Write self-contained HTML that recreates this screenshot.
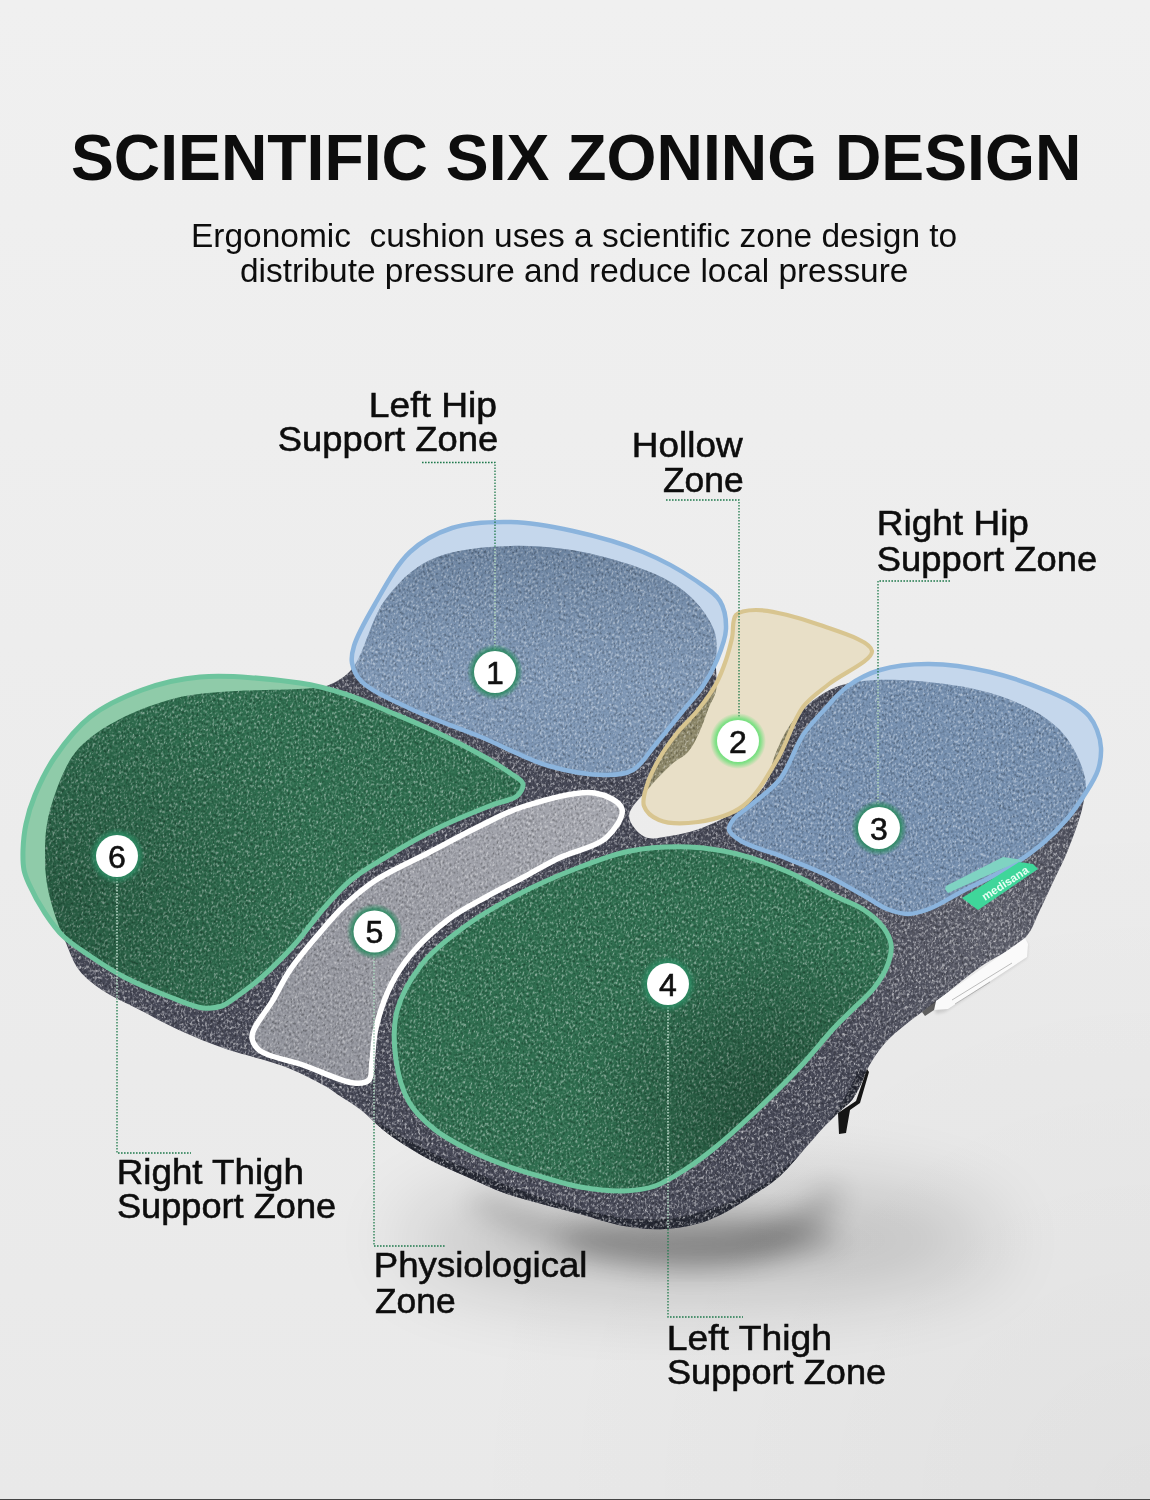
<!DOCTYPE html>
<html><head><meta charset="utf-8"><title>Scientific Six Zoning Design</title>
<style>html,body{margin:0;padding:0;background:#efefef;}body{width:1150px;height:1500px;overflow:hidden;font-family:"Liberation Sans",sans-serif;}svg{display:block;}</style>
</head><body>
<svg width="1150" height="1500" viewBox="0 0 1150 1500">
<defs>
<clipPath id="cb"><path d="M45.0,850.0 C45.1,840.7 45.5,832.9 47.0,824.0 C48.7,814.3 51.3,804.4 55.0,794.0 C59.3,782.1 65.3,766.9 72.0,757.0 C77.4,749.1 82.6,744.0 90.0,738.0 C99.2,730.5 111.1,723.3 124.0,717.0 C139.2,709.6 159.2,702.2 176.0,698.0 C191.1,694.3 202.6,693.6 220.0,692.0 C245.2,689.7 294.9,690.1 313.0,688.0 C320.6,687.1 323.4,687.3 329.0,685.0 C336.3,681.9 344.7,677.6 352.0,669.0 C364.0,654.8 370.9,618.8 385.0,600.0 C397.5,583.3 411.3,569.0 430.0,560.0 C451.9,549.5 483.3,546.8 511.0,546.0 C539.9,545.1 571.6,548.9 600.0,556.0 C627.9,563.0 660.2,573.4 680.0,588.0 C695.7,599.5 708.4,615.4 714.0,630.0 C718.7,642.2 715.7,656.9 716.0,668.0 C716.2,676.6 717.4,684.2 716.0,691.0 C714.8,697.0 711.5,701.0 709.0,707.0 C705.9,714.6 702.8,725.1 699.0,733.0 C695.7,740.0 692.6,746.8 688.0,752.0 C683.6,757.0 677.6,759.0 672.0,764.0 C664.8,770.4 656.1,779.4 649.0,788.0 C641.8,796.7 628.9,807.4 629.0,816.0 C629.1,823.5 638.0,833.7 645.0,837.0 C651.8,840.2 661.6,837.1 670.0,836.0 C678.6,834.8 687.5,832.8 696.0,830.0 C704.8,827.1 713.5,823.4 722.0,819.0 C730.8,814.4 740.5,809.2 748.0,803.0 C755.0,797.1 761.5,790.8 766.0,783.0 C770.7,774.9 771.2,764.3 775.0,755.0 C779.1,745.0 783.9,733.9 790.0,725.0 C795.7,716.7 801.9,709.4 810.0,703.0 C819.0,695.9 829.3,688.9 842.0,685.0 C858.0,680.1 878.1,679.2 900.0,680.0 C928.9,681.0 971.7,686.1 1000.0,696.0 C1023.4,704.2 1045.6,715.1 1060.0,730.0 C1072.7,743.2 1082.1,763.9 1085.0,778.0 C1087.1,788.0 1085.0,795.0 1083.0,805.0 C1080.3,818.2 1073.3,836.7 1068.0,850.0 C1063.6,861.2 1058.7,870.0 1054.0,880.0 C1049.3,890.0 1044.9,900.2 1040.0,910.0 C1035.2,919.6 1032.9,929.5 1025.0,938.0 C1014.8,949.1 994.5,956.7 980.0,967.0 C965.5,977.3 951.2,989.8 938.0,1000.0 C926.4,1009.0 914.5,1017.2 905.0,1025.0 C897.4,1031.3 891.0,1036.3 885.0,1043.0 C878.9,1049.9 873.2,1058.6 869.0,1066.0 C865.5,1072.2 863.9,1078.2 861.0,1084.0 C858.2,1089.6 855.6,1095.4 852.0,1100.0 C848.6,1104.3 844.3,1106.9 840.0,1111.0 C834.8,1116.0 828.4,1122.2 823.0,1128.0 C817.8,1133.6 813.8,1138.5 808.0,1145.0 C800.1,1153.8 789.2,1167.7 780.0,1176.0 C772.6,1182.7 767.0,1186.2 758.0,1192.0 C745.1,1200.4 725.4,1213.8 709.0,1220.0 C694.4,1225.5 679.5,1228.1 665.0,1229.0 C651.2,1229.9 637.8,1228.4 624.0,1226.0 C609.5,1223.5 593.4,1217.6 580.0,1214.0 C568.8,1211.0 560.1,1209.0 549.0,1206.0 C536.0,1202.5 520.8,1198.9 507.0,1194.0 C492.8,1189.0 477.9,1181.7 465.0,1176.0 C453.9,1171.1 444.2,1167.2 434.0,1162.0 C423.5,1156.6 412.2,1149.9 403.0,1144.0 C395.2,1139.0 388.8,1134.5 382.0,1129.0 C374.8,1123.2 368.2,1115.6 361.0,1110.0 C354.2,1104.7 346.4,1100.3 340.0,1096.0 C334.6,1092.4 331.4,1089.6 325.0,1086.0 C314.7,1080.1 298.3,1071.9 283.0,1066.0 C265.7,1059.3 243.7,1055.2 226.0,1049.0 C210.0,1043.4 195.8,1037.7 181.0,1031.0 C165.8,1024.1 149.9,1015.2 136.0,1008.0 C123.8,1001.7 111.9,996.8 102.0,990.0 C93.2,984.0 85.0,977.9 79.0,970.0 C73.0,962.2 69.9,951.9 66.0,943.0 C62.3,934.6 59.0,927.1 56.0,918.0 C52.6,907.6 48.8,895.4 47.0,884.0 C45.2,872.8 44.9,860.6 45.0,850.0Z"/></clipPath>
<filter id="blur25" x="-50%" y="-50%" width="200%" height="200%"><feGaussianBlur stdDeviation="28"/></filter>
<filter id="glow" x="-50%" y="-50%" width="200%" height="200%"><feGaussianBlur stdDeviation="1.6"/></filter>
<linearGradient id="bg" x1="0" y1="0" x2="0" y2="1"><stop offset="0" stop-color="#f0f0f0"/><stop offset="1" stop-color="#e9e9e9"/></linearGradient>
<filter id="speck" filterUnits="userSpaceOnUse" x="-400" y="-400" width="2000" height="2000"><feTurbulence type="fractalNoise" baseFrequency="0.55 0.35" numOctaves="2" seed="7"/><feColorMatrix type="matrix" values="0 0 0 0 1  0 0 0 0 1  0 0 0 0 1  5 0 0 0 -2.7"/><feGaussianBlur stdDeviation="0.45"/></filter>
<filter id="speckd" filterUnits="userSpaceOnUse" x="-400" y="-400" width="2000" height="2000"><feTurbulence type="fractalNoise" baseFrequency="0.55 0.35" numOctaves="2" seed="7"/><feColorMatrix type="matrix" values="0 0 0 0 0  0 0 0 0 0  0 0 0 0 0  -5 0 0 0 2.2"/><feGaussianBlur stdDeviation="0.45"/></filter>
</defs>
<rect x="0" y="0" width="1150" height="1500" fill="url(#bg)"/>
<radialGradient id="bgbr" cx="1150" cy="1500" r="700" gradientUnits="userSpaceOnUse"><stop offset="0" stop-color="#000" stop-opacity="0.035"/><stop offset="1" stop-color="#000" stop-opacity="0"/></radialGradient>
<rect x="0" y="0" width="1150" height="1500" fill="url(#bgbr)"/>
<filter id="blur12" x="-50%" y="-50%" width="200%" height="200%"><feGaussianBlur stdDeviation="14"/></filter>
<filter id="blur40" x="-50%" y="-50%" width="200%" height="200%"><feGaussianBlur stdDeviation="40"/></filter>
<ellipse cx="700" cy="1240" rx="300" ry="60" fill="#000" opacity="0.16" filter="url(#blur40)"/>
<ellipse cx="700" cy="1238" rx="140" ry="22" fill="#000" opacity="0.22" filter="url(#blur12)"/>
<path d="M480,1195 C560,1230 640,1245 700,1240 C760,1236 800,1215 830,1185 L842,1195 C812,1240 770,1265 700,1268 C620,1270 540,1242 470,1205Z" fill="#000" opacity="0.22" filter="url(#blur12)"/>
<path d="M45.0,850.0 C45.1,840.7 45.5,832.9 47.0,824.0 C48.7,814.3 51.3,804.4 55.0,794.0 C59.3,782.1 65.3,766.9 72.0,757.0 C77.4,749.1 82.6,744.0 90.0,738.0 C99.2,730.5 111.1,723.3 124.0,717.0 C139.2,709.6 159.2,702.2 176.0,698.0 C191.1,694.3 202.6,693.6 220.0,692.0 C245.2,689.7 294.9,690.1 313.0,688.0 C320.6,687.1 323.4,687.3 329.0,685.0 C336.3,681.9 344.7,677.6 352.0,669.0 C364.0,654.8 370.9,618.8 385.0,600.0 C397.5,583.3 411.3,569.0 430.0,560.0 C451.9,549.5 483.3,546.8 511.0,546.0 C539.9,545.1 571.6,548.9 600.0,556.0 C627.9,563.0 660.2,573.4 680.0,588.0 C695.7,599.5 708.4,615.4 714.0,630.0 C718.7,642.2 715.7,656.9 716.0,668.0 C716.2,676.6 717.4,684.2 716.0,691.0 C714.8,697.0 711.5,701.0 709.0,707.0 C705.9,714.6 702.8,725.1 699.0,733.0 C695.7,740.0 692.6,746.8 688.0,752.0 C683.6,757.0 677.6,759.0 672.0,764.0 C664.8,770.4 656.1,779.4 649.0,788.0 C641.8,796.7 628.9,807.4 629.0,816.0 C629.1,823.5 638.0,833.7 645.0,837.0 C651.8,840.2 661.6,837.1 670.0,836.0 C678.6,834.8 687.5,832.8 696.0,830.0 C704.8,827.1 713.5,823.4 722.0,819.0 C730.8,814.4 740.5,809.2 748.0,803.0 C755.0,797.1 761.5,790.8 766.0,783.0 C770.7,774.9 771.2,764.3 775.0,755.0 C779.1,745.0 783.9,733.9 790.0,725.0 C795.7,716.7 801.9,709.4 810.0,703.0 C819.0,695.9 829.3,688.9 842.0,685.0 C858.0,680.1 878.1,679.2 900.0,680.0 C928.9,681.0 971.7,686.1 1000.0,696.0 C1023.4,704.2 1045.6,715.1 1060.0,730.0 C1072.7,743.2 1082.1,763.9 1085.0,778.0 C1087.1,788.0 1085.0,795.0 1083.0,805.0 C1080.3,818.2 1073.3,836.7 1068.0,850.0 C1063.6,861.2 1058.7,870.0 1054.0,880.0 C1049.3,890.0 1044.9,900.2 1040.0,910.0 C1035.2,919.6 1032.9,929.5 1025.0,938.0 C1014.8,949.1 994.5,956.7 980.0,967.0 C965.5,977.3 951.2,989.8 938.0,1000.0 C926.4,1009.0 914.5,1017.2 905.0,1025.0 C897.4,1031.3 891.0,1036.3 885.0,1043.0 C878.9,1049.9 873.2,1058.6 869.0,1066.0 C865.5,1072.2 863.9,1078.2 861.0,1084.0 C858.2,1089.6 855.6,1095.4 852.0,1100.0 C848.6,1104.3 844.3,1106.9 840.0,1111.0 C834.8,1116.0 828.4,1122.2 823.0,1128.0 C817.8,1133.6 813.8,1138.5 808.0,1145.0 C800.1,1153.8 789.2,1167.7 780.0,1176.0 C772.6,1182.7 767.0,1186.2 758.0,1192.0 C745.1,1200.4 725.4,1213.8 709.0,1220.0 C694.4,1225.5 679.5,1228.1 665.0,1229.0 C651.2,1229.9 637.8,1228.4 624.0,1226.0 C609.5,1223.5 593.4,1217.6 580.0,1214.0 C568.8,1211.0 560.1,1209.0 549.0,1206.0 C536.0,1202.5 520.8,1198.9 507.0,1194.0 C492.8,1189.0 477.9,1181.7 465.0,1176.0 C453.9,1171.1 444.2,1167.2 434.0,1162.0 C423.5,1156.6 412.2,1149.9 403.0,1144.0 C395.2,1139.0 388.8,1134.5 382.0,1129.0 C374.8,1123.2 368.2,1115.6 361.0,1110.0 C354.2,1104.7 346.4,1100.3 340.0,1096.0 C334.6,1092.4 331.4,1089.6 325.0,1086.0 C314.7,1080.1 298.3,1071.9 283.0,1066.0 C265.7,1059.3 243.7,1055.2 226.0,1049.0 C210.0,1043.4 195.8,1037.7 181.0,1031.0 C165.8,1024.1 149.9,1015.2 136.0,1008.0 C123.8,1001.7 111.9,996.8 102.0,990.0 C93.2,984.0 85.0,977.9 79.0,970.0 C73.0,962.2 69.9,951.9 66.0,943.0 C62.3,934.6 59.0,927.1 56.0,918.0 C52.6,907.6 48.8,895.4 47.0,884.0 C45.2,872.8 44.9,860.6 45.0,850.0Z" fill="#454755"/>
<radialGradient id="sidehl" cx="1000" cy="930" r="220" gradientUnits="userSpaceOnUse"><stop offset="0" stop-color="#ffffff" stop-opacity="0.13"/><stop offset="1" stop-color="#ffffff" stop-opacity="0"/></radialGradient>
<g clip-path="url(#cb)"><rect x="700" y="700" width="450" height="500" fill="url(#sidehl)"/>
<path d="M372,1128 C420,1160 520,1205 600,1222 C660,1236 720,1222 770,1190 C810,1160 845,1125 866,1072" fill="none" stroke="#1a1c27" stroke-width="16" opacity="0.7"/></g>
<filter id="bspeck" filterUnits="userSpaceOnUse" x="0" y="500" width="1150" height="800"><feTurbulence type="fractalNoise" baseFrequency="0.38 0.3" numOctaves="2" seed="11"/><feColorMatrix type="matrix" values="0 0 0 0 1  0 0 0 0 1  0 0 0 0 1  6 0 0 0 -3.4"/><feGaussianBlur stdDeviation="0.35"/></filter>
<g clip-path="url(#cb)"><rect x="0" y="500" width="1150" height="800" fill="#c8c9d2" filter="url(#bspeck)" opacity="0.4"/></g>
<path d="M361.0,681.0 C370.6,691.1 394.2,701.1 413.0,710.0 C433.9,719.9 458.4,727.7 481.0,737.0 C503.7,746.4 526.7,759.7 549.0,766.0 C569.0,771.7 592.5,775.4 608.0,775.0 C618.1,774.8 625.5,774.3 633.0,770.0 C641.8,765.0 648.2,753.2 656.0,744.0 C664.5,734.0 673.8,722.1 682.0,712.0 C689.4,702.9 697.0,695.0 703.0,686.0 C708.6,677.6 713.2,669.3 717.0,660.0 C721.0,650.3 725.6,639.1 726.0,629.0 C726.3,619.5 724.8,609.0 720.0,601.0 C714.9,592.5 705.3,587.0 695.0,580.0 C681.2,570.6 662.1,559.9 643.0,552.0 C621.8,543.2 595.8,536.0 573.0,531.0 C551.9,526.3 531.4,522.4 511.0,522.0 C491.1,521.6 469.5,522.4 452.0,528.0 C436.2,533.1 422.2,540.6 410.0,552.0 C396.1,565.0 384.7,587.3 375.0,604.0 C366.6,618.5 357.3,634.9 354.0,646.0 C352.0,652.7 351.0,657.4 352.0,663.0 C353.1,669.1 355.4,675.1 361.0,681.0Z" fill="#c5d7ec"/>
<path d="M361.0,681.0 C370.6,691.1 394.2,701.1 413.0,710.0 C433.9,719.9 458.4,727.7 481.0,737.0 C503.7,746.4 526.7,759.7 549.0,766.0 C569.0,771.7 592.5,775.4 608.0,775.0 C618.1,774.8 625.5,774.3 633.0,770.0 C641.8,765.0 648.2,753.2 656.0,744.0 C664.5,734.0 673.8,722.1 682.0,712.0 C689.4,702.9 697.0,695.0 703.0,686.0 C708.6,677.6 713.2,669.3 717.0,660.0 C721.0,650.3 725.6,639.1 726.0,629.0 C726.3,619.5 724.8,609.0 720.0,601.0 C714.9,592.5 705.3,587.0 695.0,580.0 C681.2,570.6 662.1,559.9 643.0,552.0 C621.8,543.2 595.8,536.0 573.0,531.0 C551.9,526.3 531.4,522.4 511.0,522.0 C491.1,521.6 469.5,522.4 452.0,528.0 C436.2,533.1 422.2,540.6 410.0,552.0 C396.1,565.0 384.7,587.3 375.0,604.0 C366.6,618.5 357.3,634.9 354.0,646.0 C352.0,652.7 351.0,657.4 352.0,663.0 C353.1,669.1 355.4,675.1 361.0,681.0Z" fill="#7690b0" clip-path="url(#cb)"/>
<path d="M729.0,830.0 C729.9,833.9 735.3,837.5 741.0,841.0 C750.4,846.8 769.1,851.5 783.0,857.0 C796.8,862.5 810.4,867.5 824.0,874.0 C838.1,880.8 854.4,890.5 866.0,897.0 C874.2,901.6 879.8,906.1 887.0,909.0 C893.8,911.7 901.0,914.0 908.0,914.0 C915.0,914.0 921.4,911.9 929.0,909.0 C939.2,905.2 950.8,897.3 963.0,891.0 C976.9,883.8 994.3,876.3 1008.0,868.0 C1020.4,860.5 1031.9,852.5 1042.0,844.0 C1051.3,836.1 1059.7,827.6 1067.0,819.0 C1073.9,810.9 1079.7,802.4 1085.0,794.0 C1090.0,786.1 1095.4,778.1 1098.0,770.0 C1100.4,762.7 1101.3,754.9 1101.0,748.0 C1100.7,741.7 1099.1,735.5 1097.0,730.0 C1095.0,724.9 1092.4,720.1 1089.0,716.0 C1085.5,711.8 1081.3,708.5 1076.0,705.0 C1069.0,700.4 1060.6,696.4 1050.0,692.0 C1034.3,685.5 1010.3,676.7 990.0,672.0 C970.0,667.4 948.2,664.1 929.0,664.0 C911.8,663.9 894.3,665.7 880.0,670.0 C867.8,673.7 857.4,679.2 848.0,686.0 C838.8,692.6 831.6,701.7 824.0,710.0 C816.6,718.1 809.6,725.1 803.0,735.0 C794.8,747.2 789.4,766.9 780.0,779.0 C771.7,789.7 759.6,797.6 751.0,805.0 C744.3,810.8 736.6,815.0 733.0,820.0 C730.6,823.4 728.3,826.8 729.0,830.0Z" fill="#c5d7ec"/>
<path d="M729.0,830.0 C729.9,833.9 735.3,837.5 741.0,841.0 C750.4,846.8 769.1,851.5 783.0,857.0 C796.8,862.5 810.4,867.5 824.0,874.0 C838.1,880.8 854.4,890.5 866.0,897.0 C874.2,901.6 879.8,906.1 887.0,909.0 C893.8,911.7 901.0,914.0 908.0,914.0 C915.0,914.0 921.4,911.9 929.0,909.0 C939.2,905.2 950.8,897.3 963.0,891.0 C976.9,883.8 994.3,876.3 1008.0,868.0 C1020.4,860.5 1031.9,852.5 1042.0,844.0 C1051.3,836.1 1059.7,827.6 1067.0,819.0 C1073.9,810.9 1079.7,802.4 1085.0,794.0 C1090.0,786.1 1095.4,778.1 1098.0,770.0 C1100.4,762.7 1101.3,754.9 1101.0,748.0 C1100.7,741.7 1099.1,735.5 1097.0,730.0 C1095.0,724.9 1092.4,720.1 1089.0,716.0 C1085.5,711.8 1081.3,708.5 1076.0,705.0 C1069.0,700.4 1060.6,696.4 1050.0,692.0 C1034.3,685.5 1010.3,676.7 990.0,672.0 C970.0,667.4 948.2,664.1 929.0,664.0 C911.8,663.9 894.3,665.7 880.0,670.0 C867.8,673.7 857.4,679.2 848.0,686.0 C838.8,692.6 831.6,701.7 824.0,710.0 C816.6,718.1 809.6,725.1 803.0,735.0 C794.8,747.2 789.4,766.9 780.0,779.0 C771.7,789.7 759.6,797.6 751.0,805.0 C744.3,810.8 736.6,815.0 733.0,820.0 C730.6,823.4 728.3,826.8 729.0,830.0Z" fill="#7690b0" clip-path="url(#cb)"/>
<path d="M200.0,677.0 C177.9,678.8 160.4,683.3 142.0,690.0 C123.7,696.7 104.7,705.4 90.0,717.0 C76.0,728.0 64.4,743.3 55.0,757.0 C46.5,769.3 40.0,783.0 35.0,795.0 C30.8,805.1 28.0,814.5 26.0,824.0 C24.1,832.8 23.3,841.9 23.0,850.0 C22.8,857.1 22.8,864.0 24.0,870.0 C25.0,875.2 26.6,878.6 29.0,884.0 C32.6,892.0 39.1,904.1 45.0,913.0 C50.5,921.3 55.8,929.0 63.0,936.0 C70.7,943.5 80.3,949.5 90.0,956.0 C100.5,963.1 111.6,970.5 124.0,977.0 C137.9,984.3 155.8,991.6 170.0,997.0 C181.8,1001.5 193.4,1007.0 203.0,1008.0 C210.1,1008.8 216.8,1007.7 222.0,1006.0 C226.0,1004.6 227.9,1002.8 232.0,1000.0 C239.4,994.9 252.0,985.8 262.0,977.0 C273.3,967.1 285.5,954.7 296.0,943.0 C306.1,931.7 314.5,918.8 324.0,908.0 C332.9,897.9 340.9,888.4 351.0,880.0 C361.5,871.3 373.1,864.8 386.0,857.0 C401.0,847.9 418.6,837.6 436.0,829.0 C453.9,820.2 477.0,810.9 492.0,805.0 C501.9,801.1 511.9,800.5 517.0,796.0 C520.6,792.8 523.7,787.6 523.0,784.0 C522.2,779.9 515.4,776.9 510.0,773.0 C502.4,767.5 491.9,761.1 481.0,755.0 C467.8,747.5 451.2,739.2 436.0,732.0 C420.9,724.8 405.3,718.4 390.0,712.0 C375.0,705.7 360.2,698.9 345.0,694.0 C330.2,689.2 318.1,685.7 300.0,683.0 C273.4,679.0 228.7,674.7 200.0,677.0Z" fill="#8fcba9"/>
<path d="M200.0,677.0 C177.9,678.8 160.4,683.3 142.0,690.0 C123.7,696.7 104.7,705.4 90.0,717.0 C76.0,728.0 64.4,743.3 55.0,757.0 C46.5,769.3 40.0,783.0 35.0,795.0 C30.8,805.1 28.0,814.5 26.0,824.0 C24.1,832.8 23.3,841.9 23.0,850.0 C22.8,857.1 22.8,864.0 24.0,870.0 C25.0,875.2 26.6,878.6 29.0,884.0 C32.6,892.0 39.1,904.1 45.0,913.0 C50.5,921.3 55.8,929.0 63.0,936.0 C70.7,943.5 80.3,949.5 90.0,956.0 C100.5,963.1 111.6,970.5 124.0,977.0 C137.9,984.3 155.8,991.6 170.0,997.0 C181.8,1001.5 193.4,1007.0 203.0,1008.0 C210.1,1008.8 216.8,1007.7 222.0,1006.0 C226.0,1004.6 227.9,1002.8 232.0,1000.0 C239.4,994.9 252.0,985.8 262.0,977.0 C273.3,967.1 285.5,954.7 296.0,943.0 C306.1,931.7 314.5,918.8 324.0,908.0 C332.9,897.9 340.9,888.4 351.0,880.0 C361.5,871.3 373.1,864.8 386.0,857.0 C401.0,847.9 418.6,837.6 436.0,829.0 C453.9,820.2 477.0,810.9 492.0,805.0 C501.9,801.1 511.9,800.5 517.0,796.0 C520.6,792.8 523.7,787.6 523.0,784.0 C522.2,779.9 515.4,776.9 510.0,773.0 C502.4,767.5 491.9,761.1 481.0,755.0 C467.8,747.5 451.2,739.2 436.0,732.0 C420.9,724.8 405.3,718.4 390.0,712.0 C375.0,705.7 360.2,698.9 345.0,694.0 C330.2,689.2 318.1,685.7 300.0,683.0 C273.4,679.0 228.7,674.7 200.0,677.0Z" fill="#2f6e4f" clip-path="url(#cb)"/>
<path d="M630.0,851.0 C649.1,847.3 670.4,846.3 689.0,847.0 C705.9,847.7 721.1,850.1 737.0,854.0 C753.4,858.0 769.9,864.1 786.0,871.0 C802.6,878.1 820.8,888.9 835.0,896.0 C845.9,901.4 855.7,904.4 864.0,910.0 C871.4,915.0 878.4,920.8 883.0,927.0 C886.9,932.3 890.1,938.0 891.0,944.0 C891.9,950.3 890.4,957.3 888.0,964.0 C885.2,971.9 879.8,980.5 874.0,988.0 C867.9,995.9 859.0,1003.0 852.0,1010.0 C845.7,1016.3 840.8,1020.7 834.0,1028.0 C824.3,1038.4 812.2,1054.0 800.0,1067.0 C787.0,1081.0 772.1,1095.6 758.0,1109.0 C744.4,1121.9 730.0,1135.4 717.0,1146.0 C706.2,1154.9 696.6,1162.2 686.0,1169.0 C675.9,1175.5 665.7,1182.3 655.0,1186.0 C645.0,1189.4 635.3,1190.6 624.0,1191.0 C610.6,1191.5 593.3,1189.3 580.0,1187.0 C568.7,1185.0 560.1,1182.1 549.0,1179.0 C536.0,1175.3 520.9,1171.1 507.0,1166.0 C492.9,1160.8 477.7,1154.6 465.0,1148.0 C453.7,1142.1 443.3,1136.6 434.0,1129.0 C424.6,1121.3 415.2,1112.8 409.0,1102.0 C402.2,1090.2 398.1,1074.7 396.0,1060.0 C393.8,1044.5 392.9,1026.7 397.0,1011.0 C401.3,994.6 411.0,977.9 422.0,964.0 C433.2,949.8 448.5,938.3 464.0,927.0 C480.6,914.9 500.3,903.7 519.0,894.0 C537.3,884.5 556.2,876.2 575.0,869.0 C593.2,862.0 611.1,854.7 630.0,851.0Z" fill="#8fcba9"/>
<path d="M630.0,851.0 C649.1,847.3 670.4,846.3 689.0,847.0 C705.9,847.7 721.1,850.1 737.0,854.0 C753.4,858.0 769.9,864.1 786.0,871.0 C802.6,878.1 820.8,888.9 835.0,896.0 C845.9,901.4 855.7,904.4 864.0,910.0 C871.4,915.0 878.4,920.8 883.0,927.0 C886.9,932.3 890.1,938.0 891.0,944.0 C891.9,950.3 890.4,957.3 888.0,964.0 C885.2,971.9 879.8,980.5 874.0,988.0 C867.9,995.9 859.0,1003.0 852.0,1010.0 C845.7,1016.3 840.8,1020.7 834.0,1028.0 C824.3,1038.4 812.2,1054.0 800.0,1067.0 C787.0,1081.0 772.1,1095.6 758.0,1109.0 C744.4,1121.9 730.0,1135.4 717.0,1146.0 C706.2,1154.9 696.6,1162.2 686.0,1169.0 C675.9,1175.5 665.7,1182.3 655.0,1186.0 C645.0,1189.4 635.3,1190.6 624.0,1191.0 C610.6,1191.5 593.3,1189.3 580.0,1187.0 C568.7,1185.0 560.1,1182.1 549.0,1179.0 C536.0,1175.3 520.9,1171.1 507.0,1166.0 C492.9,1160.8 477.7,1154.6 465.0,1148.0 C453.7,1142.1 443.3,1136.6 434.0,1129.0 C424.6,1121.3 415.2,1112.8 409.0,1102.0 C402.2,1090.2 398.1,1074.7 396.0,1060.0 C393.8,1044.5 392.9,1026.7 397.0,1011.0 C401.3,994.6 411.0,977.9 422.0,964.0 C433.2,949.8 448.5,938.3 464.0,927.0 C480.6,914.9 500.3,903.7 519.0,894.0 C537.3,884.5 556.2,876.2 575.0,869.0 C593.2,862.0 611.1,854.7 630.0,851.0Z" fill="#2f6e4f" clip-path="url(#cb)"/>
<path d="M736.0,615.0 C740.0,610.7 747.4,610.1 756.0,610.0 C771.3,609.9 800.2,617.8 820.0,625.0 C838.7,631.7 871.0,640.9 872.0,651.0 C872.9,660.7 841.4,673.8 829.0,684.0 C819.1,692.2 810.8,696.8 803.0,707.0 C792.8,720.3 787.1,743.4 777.0,760.0 C767.1,776.4 757.0,795.6 743.0,806.0 C730.2,815.5 712.7,819.9 698.0,822.0 C684.7,823.9 668.5,824.0 659.0,820.0 C652.1,817.1 646.0,811.8 644.0,806.0 C641.9,800.1 644.9,792.2 647.0,785.0 C649.5,776.6 654.2,767.5 659.0,759.0 C664.1,750.1 670.5,741.2 677.0,733.0 C683.5,724.9 691.5,718.1 698.0,710.0 C704.5,701.8 711.2,692.7 716.0,684.0 C720.3,676.1 723.3,667.9 726.0,660.0 C728.5,652.6 730.3,645.5 732.0,638.0 C733.7,630.5 731.7,619.6 736.0,615.0Z" fill="#e8dfc7"/>
<path d="M736.0,615.0 C740.0,610.7 747.4,610.1 756.0,610.0 C771.3,609.9 800.2,617.8 820.0,625.0 C838.7,631.7 871.0,640.9 872.0,651.0 C872.9,660.7 841.4,673.8 829.0,684.0 C819.1,692.2 810.8,696.8 803.0,707.0 C792.8,720.3 787.1,743.4 777.0,760.0 C767.1,776.4 757.0,795.6 743.0,806.0 C730.2,815.5 712.7,819.9 698.0,822.0 C684.7,823.9 668.5,824.0 659.0,820.0 C652.1,817.1 646.0,811.8 644.0,806.0 C641.9,800.1 644.9,792.2 647.0,785.0 C649.5,776.6 654.2,767.5 659.0,759.0 C664.1,750.1 670.5,741.2 677.0,733.0 C683.5,724.9 691.5,718.1 698.0,710.0 C704.5,701.8 711.2,692.7 716.0,684.0 C720.3,676.1 723.3,667.9 726.0,660.0 C728.5,652.6 730.3,645.5 732.0,638.0 C733.7,630.5 731.7,619.6 736.0,615.0Z" fill="#8c8769" clip-path="url(#cb)"/>
<path d="M595.0,793.0 C606.7,795.0 620.0,801.7 622.0,809.0 C624.1,816.5 614.6,830.3 606.0,838.0 C595.3,847.6 573.6,851.0 559.0,858.0 C545.8,864.4 534.3,871.4 522.0,878.0 C509.9,884.4 498.0,890.3 486.0,897.0 C473.7,903.9 460.8,910.2 449.0,919.0 C436.4,928.4 423.0,940.4 413.0,952.0 C404.0,962.5 397.0,972.9 391.0,985.0 C384.5,998.0 379.1,1014.5 376.0,1028.0 C373.3,1039.6 373.3,1051.5 372.0,1061.0 C371.0,1068.2 372.4,1076.4 369.0,1080.0 C365.9,1083.2 360.4,1083.5 354.0,1083.0 C342.0,1082.1 319.4,1070.7 303.0,1065.0 C287.8,1059.7 266.9,1056.9 259.0,1050.0 C254.4,1046.0 251.8,1041.7 252.0,1036.0 C252.3,1026.7 266.4,1011.5 273.0,1000.0 C279.0,989.6 283.2,980.0 290.0,970.0 C297.6,958.7 307.7,946.9 317.0,936.0 C326.1,925.3 335.0,914.4 345.0,905.0 C354.7,895.8 363.9,887.9 376.0,880.0 C390.7,870.4 410.7,862.0 428.0,853.0 C445.3,844.0 463.5,834.0 480.0,826.0 C494.6,818.9 505.7,812.2 522.0,807.0 C542.7,800.4 577.0,789.9 595.0,793.0Z" fill="#9d9fa8"/>
<g clip-path="url(#cb)"><g transform="rotate(20 575 900)" style="mix-blend-mode:soft-light"><rect x="-200" y="300" width="1550" height="1200" fill="#fff" filter="url(#speck)" opacity="0.45"/><rect x="-200" y="300" width="1550" height="1200" fill="#000" filter="url(#speckd)" opacity="0.3"/></g></g>
<radialGradient id="z4dark" cx="770" cy="1120" r="190" gradientUnits="userSpaceOnUse"><stop offset="0" stop-color="#000" stop-opacity="0.28"/><stop offset="1" stop-color="#000" stop-opacity="0"/></radialGradient>
<clipPath id="cz4"><path d="M630.0,851.0 C649.1,847.3 670.4,846.3 689.0,847.0 C705.9,847.7 721.1,850.1 737.0,854.0 C753.4,858.0 769.9,864.1 786.0,871.0 C802.6,878.1 820.8,888.9 835.0,896.0 C845.9,901.4 855.7,904.4 864.0,910.0 C871.4,915.0 878.4,920.8 883.0,927.0 C886.9,932.3 890.1,938.0 891.0,944.0 C891.9,950.3 890.4,957.3 888.0,964.0 C885.2,971.9 879.8,980.5 874.0,988.0 C867.9,995.9 859.0,1003.0 852.0,1010.0 C845.7,1016.3 840.8,1020.7 834.0,1028.0 C824.3,1038.4 812.2,1054.0 800.0,1067.0 C787.0,1081.0 772.1,1095.6 758.0,1109.0 C744.4,1121.9 730.0,1135.4 717.0,1146.0 C706.2,1154.9 696.6,1162.2 686.0,1169.0 C675.9,1175.5 665.7,1182.3 655.0,1186.0 C645.0,1189.4 635.3,1190.6 624.0,1191.0 C610.6,1191.5 593.3,1189.3 580.0,1187.0 C568.7,1185.0 560.1,1182.1 549.0,1179.0 C536.0,1175.3 520.9,1171.1 507.0,1166.0 C492.9,1160.8 477.7,1154.6 465.0,1148.0 C453.7,1142.1 443.3,1136.6 434.0,1129.0 C424.6,1121.3 415.2,1112.8 409.0,1102.0 C402.2,1090.2 398.1,1074.7 396.0,1060.0 C393.8,1044.5 392.9,1026.7 397.0,1011.0 C401.3,994.6 411.0,977.9 422.0,964.0 C433.2,949.8 448.5,938.3 464.0,927.0 C480.6,914.9 500.3,903.7 519.0,894.0 C537.3,884.5 556.2,876.2 575.0,869.0 C593.2,862.0 611.1,854.7 630.0,851.0Z"/></clipPath>
<rect x="380" y="830" width="520" height="380" fill="url(#z4dark)" clip-path="url(#cz4)"/>
<linearGradient id="z1lg" x1="0" y1="0" x2="0" y2="1"><stop offset="0" stop-color="#000" stop-opacity="0.10"/><stop offset="0.6" stop-color="#fff" stop-opacity="0.06"/><stop offset="1" stop-color="#fff" stop-opacity="0.04"/></linearGradient>
<clipPath id="cz1"><path d="M361.0,681.0 C370.6,691.1 394.2,701.1 413.0,710.0 C433.9,719.9 458.4,727.7 481.0,737.0 C503.7,746.4 526.7,759.7 549.0,766.0 C569.0,771.7 592.5,775.4 608.0,775.0 C618.1,774.8 625.5,774.3 633.0,770.0 C641.8,765.0 648.2,753.2 656.0,744.0 C664.5,734.0 673.8,722.1 682.0,712.0 C689.4,702.9 697.0,695.0 703.0,686.0 C708.6,677.6 713.2,669.3 717.0,660.0 C721.0,650.3 725.6,639.1 726.0,629.0 C726.3,619.5 724.8,609.0 720.0,601.0 C714.9,592.5 705.3,587.0 695.0,580.0 C681.2,570.6 662.1,559.9 643.0,552.0 C621.8,543.2 595.8,536.0 573.0,531.0 C551.9,526.3 531.4,522.4 511.0,522.0 C491.1,521.6 469.5,522.4 452.0,528.0 C436.2,533.1 422.2,540.6 410.0,552.0 C396.1,565.0 384.7,587.3 375.0,604.0 C366.6,618.5 357.3,634.9 354.0,646.0 C352.0,652.7 351.0,657.4 352.0,663.0 C353.1,669.1 355.4,675.1 361.0,681.0Z"/></clipPath>
<g clip-path="url(#cb)"><rect x="340" y="540" width="400" height="240" fill="url(#z1lg)" clip-path="url(#cz1)"/></g>
<radialGradient id="z6dark" cx="60" cy="900" r="260" gradientUnits="userSpaceOnUse"><stop offset="0" stop-color="#000" stop-opacity="0.18"/><stop offset="1" stop-color="#000" stop-opacity="0"/></radialGradient>
<clipPath id="cz6"><path d="M200.0,677.0 C177.9,678.8 160.4,683.3 142.0,690.0 C123.7,696.7 104.7,705.4 90.0,717.0 C76.0,728.0 64.4,743.3 55.0,757.0 C46.5,769.3 40.0,783.0 35.0,795.0 C30.8,805.1 28.0,814.5 26.0,824.0 C24.1,832.8 23.3,841.9 23.0,850.0 C22.8,857.1 22.8,864.0 24.0,870.0 C25.0,875.2 26.6,878.6 29.0,884.0 C32.6,892.0 39.1,904.1 45.0,913.0 C50.5,921.3 55.8,929.0 63.0,936.0 C70.7,943.5 80.3,949.5 90.0,956.0 C100.5,963.1 111.6,970.5 124.0,977.0 C137.9,984.3 155.8,991.6 170.0,997.0 C181.8,1001.5 193.4,1007.0 203.0,1008.0 C210.1,1008.8 216.8,1007.7 222.0,1006.0 C226.0,1004.6 227.9,1002.8 232.0,1000.0 C239.4,994.9 252.0,985.8 262.0,977.0 C273.3,967.1 285.5,954.7 296.0,943.0 C306.1,931.7 314.5,918.8 324.0,908.0 C332.9,897.9 340.9,888.4 351.0,880.0 C361.5,871.3 373.1,864.8 386.0,857.0 C401.0,847.9 418.6,837.6 436.0,829.0 C453.9,820.2 477.0,810.9 492.0,805.0 C501.9,801.1 511.9,800.5 517.0,796.0 C520.6,792.8 523.7,787.6 523.0,784.0 C522.2,779.9 515.4,776.9 510.0,773.0 C502.4,767.5 491.9,761.1 481.0,755.0 C467.8,747.5 451.2,739.2 436.0,732.0 C420.9,724.8 405.3,718.4 390.0,712.0 C375.0,705.7 360.2,698.9 345.0,694.0 C330.2,689.2 318.1,685.7 300.0,683.0 C273.4,679.0 228.7,674.7 200.0,677.0Z"/></clipPath>
<g clip-path="url(#cb)"><rect x="0" y="660" width="540" height="360" fill="url(#z6dark)" clip-path="url(#cz6)"/></g>
<linearGradient id="z5lg" x1="620" y1="800" x2="260" y2="1080" gradientUnits="userSpaceOnUse"><stop offset="0" stop-color="#fff" stop-opacity="0.10"/><stop offset="1" stop-color="#000" stop-opacity="0.08"/></linearGradient>
<path d="M595.0,793.0 C606.7,795.0 620.0,801.7 622.0,809.0 C624.1,816.5 614.6,830.3 606.0,838.0 C595.3,847.6 573.6,851.0 559.0,858.0 C545.8,864.4 534.3,871.4 522.0,878.0 C509.9,884.4 498.0,890.3 486.0,897.0 C473.7,903.9 460.8,910.2 449.0,919.0 C436.4,928.4 423.0,940.4 413.0,952.0 C404.0,962.5 397.0,972.9 391.0,985.0 C384.5,998.0 379.1,1014.5 376.0,1028.0 C373.3,1039.6 373.3,1051.5 372.0,1061.0 C371.0,1068.2 372.4,1076.4 369.0,1080.0 C365.9,1083.2 360.4,1083.5 354.0,1083.0 C342.0,1082.1 319.4,1070.7 303.0,1065.0 C287.8,1059.7 266.9,1056.9 259.0,1050.0 C254.4,1046.0 251.8,1041.7 252.0,1036.0 C252.3,1026.7 266.4,1011.5 273.0,1000.0 C279.0,989.6 283.2,980.0 290.0,970.0 C297.6,958.7 307.7,946.9 317.0,936.0 C326.1,925.3 335.0,914.4 345.0,905.0 C354.7,895.8 363.9,887.9 376.0,880.0 C390.7,870.4 410.7,862.0 428.0,853.0 C445.3,844.0 463.5,834.0 480.0,826.0 C494.6,818.9 505.7,812.2 522.0,807.0 C542.7,800.4 577.0,789.9 595.0,793.0Z" fill="url(#z5lg)"/>
<path d="M361.0,681.0 C370.6,691.1 394.2,701.1 413.0,710.0 C433.9,719.9 458.4,727.7 481.0,737.0 C503.7,746.4 526.7,759.7 549.0,766.0 C569.0,771.7 592.5,775.4 608.0,775.0 C618.1,774.8 625.5,774.3 633.0,770.0 C641.8,765.0 648.2,753.2 656.0,744.0 C664.5,734.0 673.8,722.1 682.0,712.0 C689.4,702.9 697.0,695.0 703.0,686.0 C708.6,677.6 713.2,669.3 717.0,660.0 C721.0,650.3 725.6,639.1 726.0,629.0 C726.3,619.5 724.8,609.0 720.0,601.0 C714.9,592.5 705.3,587.0 695.0,580.0 C681.2,570.6 662.1,559.9 643.0,552.0 C621.8,543.2 595.8,536.0 573.0,531.0 C551.9,526.3 531.4,522.4 511.0,522.0 C491.1,521.6 469.5,522.4 452.0,528.0 C436.2,533.1 422.2,540.6 410.0,552.0 C396.1,565.0 384.7,587.3 375.0,604.0 C366.6,618.5 357.3,634.9 354.0,646.0 C352.0,652.7 351.0,657.4 352.0,663.0 C353.1,669.1 355.4,675.1 361.0,681.0Z" fill="none" stroke="#8bb4dd" stroke-width="4.5"/>
<path d="M729.0,830.0 C729.9,833.9 735.3,837.5 741.0,841.0 C750.4,846.8 769.1,851.5 783.0,857.0 C796.8,862.5 810.4,867.5 824.0,874.0 C838.1,880.8 854.4,890.5 866.0,897.0 C874.2,901.6 879.8,906.1 887.0,909.0 C893.8,911.7 901.0,914.0 908.0,914.0 C915.0,914.0 921.4,911.9 929.0,909.0 C939.2,905.2 950.8,897.3 963.0,891.0 C976.9,883.8 994.3,876.3 1008.0,868.0 C1020.4,860.5 1031.9,852.5 1042.0,844.0 C1051.3,836.1 1059.7,827.6 1067.0,819.0 C1073.9,810.9 1079.7,802.4 1085.0,794.0 C1090.0,786.1 1095.4,778.1 1098.0,770.0 C1100.4,762.7 1101.3,754.9 1101.0,748.0 C1100.7,741.7 1099.1,735.5 1097.0,730.0 C1095.0,724.9 1092.4,720.1 1089.0,716.0 C1085.5,711.8 1081.3,708.5 1076.0,705.0 C1069.0,700.4 1060.6,696.4 1050.0,692.0 C1034.3,685.5 1010.3,676.7 990.0,672.0 C970.0,667.4 948.2,664.1 929.0,664.0 C911.8,663.9 894.3,665.7 880.0,670.0 C867.8,673.7 857.4,679.2 848.0,686.0 C838.8,692.6 831.6,701.7 824.0,710.0 C816.6,718.1 809.6,725.1 803.0,735.0 C794.8,747.2 789.4,766.9 780.0,779.0 C771.7,789.7 759.6,797.6 751.0,805.0 C744.3,810.8 736.6,815.0 733.0,820.0 C730.6,823.4 728.3,826.8 729.0,830.0Z" fill="none" stroke="#8bb4dd" stroke-width="4.5"/>
<path d="M200.0,677.0 C177.9,678.8 160.4,683.3 142.0,690.0 C123.7,696.7 104.7,705.4 90.0,717.0 C76.0,728.0 64.4,743.3 55.0,757.0 C46.5,769.3 40.0,783.0 35.0,795.0 C30.8,805.1 28.0,814.5 26.0,824.0 C24.1,832.8 23.3,841.9 23.0,850.0 C22.8,857.1 22.8,864.0 24.0,870.0 C25.0,875.2 26.6,878.6 29.0,884.0 C32.6,892.0 39.1,904.1 45.0,913.0 C50.5,921.3 55.8,929.0 63.0,936.0 C70.7,943.5 80.3,949.5 90.0,956.0 C100.5,963.1 111.6,970.5 124.0,977.0 C137.9,984.3 155.8,991.6 170.0,997.0 C181.8,1001.5 193.4,1007.0 203.0,1008.0 C210.1,1008.8 216.8,1007.7 222.0,1006.0 C226.0,1004.6 227.9,1002.8 232.0,1000.0 C239.4,994.9 252.0,985.8 262.0,977.0 C273.3,967.1 285.5,954.7 296.0,943.0 C306.1,931.7 314.5,918.8 324.0,908.0 C332.9,897.9 340.9,888.4 351.0,880.0 C361.5,871.3 373.1,864.8 386.0,857.0 C401.0,847.9 418.6,837.6 436.0,829.0 C453.9,820.2 477.0,810.9 492.0,805.0 C501.9,801.1 511.9,800.5 517.0,796.0 C520.6,792.8 523.7,787.6 523.0,784.0 C522.2,779.9 515.4,776.9 510.0,773.0 C502.4,767.5 491.9,761.1 481.0,755.0 C467.8,747.5 451.2,739.2 436.0,732.0 C420.9,724.8 405.3,718.4 390.0,712.0 C375.0,705.7 360.2,698.9 345.0,694.0 C330.2,689.2 318.1,685.7 300.0,683.0 C273.4,679.0 228.7,674.7 200.0,677.0Z" fill="none" stroke="#6dc49d" stroke-width="5"/>
<path d="M630.0,851.0 C649.1,847.3 670.4,846.3 689.0,847.0 C705.9,847.7 721.1,850.1 737.0,854.0 C753.4,858.0 769.9,864.1 786.0,871.0 C802.6,878.1 820.8,888.9 835.0,896.0 C845.9,901.4 855.7,904.4 864.0,910.0 C871.4,915.0 878.4,920.8 883.0,927.0 C886.9,932.3 890.1,938.0 891.0,944.0 C891.9,950.3 890.4,957.3 888.0,964.0 C885.2,971.9 879.8,980.5 874.0,988.0 C867.9,995.9 859.0,1003.0 852.0,1010.0 C845.7,1016.3 840.8,1020.7 834.0,1028.0 C824.3,1038.4 812.2,1054.0 800.0,1067.0 C787.0,1081.0 772.1,1095.6 758.0,1109.0 C744.4,1121.9 730.0,1135.4 717.0,1146.0 C706.2,1154.9 696.6,1162.2 686.0,1169.0 C675.9,1175.5 665.7,1182.3 655.0,1186.0 C645.0,1189.4 635.3,1190.6 624.0,1191.0 C610.6,1191.5 593.3,1189.3 580.0,1187.0 C568.7,1185.0 560.1,1182.1 549.0,1179.0 C536.0,1175.3 520.9,1171.1 507.0,1166.0 C492.9,1160.8 477.7,1154.6 465.0,1148.0 C453.7,1142.1 443.3,1136.6 434.0,1129.0 C424.6,1121.3 415.2,1112.8 409.0,1102.0 C402.2,1090.2 398.1,1074.7 396.0,1060.0 C393.8,1044.5 392.9,1026.7 397.0,1011.0 C401.3,994.6 411.0,977.9 422.0,964.0 C433.2,949.8 448.5,938.3 464.0,927.0 C480.6,914.9 500.3,903.7 519.0,894.0 C537.3,884.5 556.2,876.2 575.0,869.0 C593.2,862.0 611.1,854.7 630.0,851.0Z" fill="none" stroke="#6dc49d" stroke-width="5"/>
<path d="M736.0,615.0 C740.0,610.7 747.4,610.1 756.0,610.0 C771.3,609.9 800.2,617.8 820.0,625.0 C838.7,631.7 871.0,640.9 872.0,651.0 C872.9,660.7 841.4,673.8 829.0,684.0 C819.1,692.2 810.8,696.8 803.0,707.0 C792.8,720.3 787.1,743.4 777.0,760.0 C767.1,776.4 757.0,795.6 743.0,806.0 C730.2,815.5 712.7,819.9 698.0,822.0 C684.7,823.9 668.5,824.0 659.0,820.0 C652.1,817.1 646.0,811.8 644.0,806.0 C641.9,800.1 644.9,792.2 647.0,785.0 C649.5,776.6 654.2,767.5 659.0,759.0 C664.1,750.1 670.5,741.2 677.0,733.0 C683.5,724.9 691.5,718.1 698.0,710.0 C704.5,701.8 711.2,692.7 716.0,684.0 C720.3,676.1 723.3,667.9 726.0,660.0 C728.5,652.6 730.3,645.5 732.0,638.0 C733.7,630.5 731.7,619.6 736.0,615.0Z" fill="none" stroke="#d8c590" stroke-width="4.2"/>
<path d="M595.0,793.0 C606.7,795.0 620.0,801.7 622.0,809.0 C624.1,816.5 614.6,830.3 606.0,838.0 C595.3,847.6 573.6,851.0 559.0,858.0 C545.8,864.4 534.3,871.4 522.0,878.0 C509.9,884.4 498.0,890.3 486.0,897.0 C473.7,903.9 460.8,910.2 449.0,919.0 C436.4,928.4 423.0,940.4 413.0,952.0 C404.0,962.5 397.0,972.9 391.0,985.0 C384.5,998.0 379.1,1014.5 376.0,1028.0 C373.3,1039.6 373.3,1051.5 372.0,1061.0 C371.0,1068.2 372.4,1076.4 369.0,1080.0 C365.9,1083.2 360.4,1083.5 354.0,1083.0 C342.0,1082.1 319.4,1070.7 303.0,1065.0 C287.8,1059.7 266.9,1056.9 259.0,1050.0 C254.4,1046.0 251.8,1041.7 252.0,1036.0 C252.3,1026.7 266.4,1011.5 273.0,1000.0 C279.0,989.6 283.2,980.0 290.0,970.0 C297.6,958.7 307.7,946.9 317.0,936.0 C326.1,925.3 335.0,914.4 345.0,905.0 C354.7,895.8 363.9,887.9 376.0,880.0 C390.7,870.4 410.7,862.0 428.0,853.0 C445.3,844.0 463.5,834.0 480.0,826.0 C494.6,818.9 505.7,812.2 522.0,807.0 C542.7,800.4 577.0,789.9 595.0,793.0Z" fill="none" stroke="#ffffff" stroke-width="5.5"/>
<path d="M934,1006 L1025,940 L1028,945 L1027,958 L945,1012 L936,1014Z" fill="#000" opacity="0.12" filter="url(#glow)"/>
<path d="M936,1001 L1025,938 L1028,944 L1027,957 L948,1009 L934,1010Z" fill="#fafafa"/>
<path d="M952,1000 L1012,963 M955,1004 L990,982" stroke="#8a8a8a" stroke-width="0.8" opacity="0.7"/>
<path d="M922,1012 L936,1001 L934,1010 L925,1016Z" fill="#222" opacity="0.7"/>
<path d="M867,1069 L869,1072 L860,1103 L850,1110 L846,1133 L839,1134 L838,1113 L856,1101Z" fill="#151515"/>
<path d="M962,898 L978,910 L1038,869 L1033,864 L1019,862Z" fill="#3fd69a"/>
<path d="M945,889 L948,893 L1022,860 L1003,857 L946,886Z" fill="#7fd3c2"/>
<text x="0" y="0" transform="translate(985,901) rotate(-33)" font-family="Liberation Sans" font-weight="bold" font-size="11.5" fill="#e8fff4">medisana</text>
<path d="M422.0,462.5 L495.0,462.5 L495.0,650.0" fill="none" stroke="#1f7a4c" stroke-width="1.3" stroke-dasharray="1.6,1.4"/>
<path d="M422.0,462.5 L495.0,462.5 L495.0,650.0" fill="none" stroke="#ffffff" stroke-width="1.2" stroke-dasharray="1.5,1.5" clip-path="url(#cb)" opacity="0.9"/>
<path d="M666.0,500.0 L739.0,500.0 L739.0,718.0" fill="none" stroke="#1f7a4c" stroke-width="1.3" stroke-dasharray="1.6,1.4"/>
<path d="M666.0,500.0 L739.0,500.0 L739.0,718.0" fill="none" stroke="#ffffff" stroke-width="1.2" stroke-dasharray="1.5,1.5" clip-path="url(#cb)" opacity="0.9"/>
<path d="M950.0,581.0 L878.0,581.0 L878.0,806.0" fill="none" stroke="#1f7a4c" stroke-width="1.3" stroke-dasharray="1.6,1.4"/>
<path d="M950.0,581.0 L878.0,581.0 L878.0,806.0" fill="none" stroke="#ffffff" stroke-width="1.2" stroke-dasharray="1.5,1.5" clip-path="url(#cb)" opacity="0.9"/>
<path d="M117.0,878.0 L117.0,1153.0 L191.0,1153.0" fill="none" stroke="#1f7a4c" stroke-width="1.3" stroke-dasharray="1.6,1.4"/>
<path d="M117.0,878.0 L117.0,1153.0 L191.0,1153.0" fill="none" stroke="#ffffff" stroke-width="1.2" stroke-dasharray="1.5,1.5" clip-path="url(#cb)" opacity="0.9"/>
<path d="M374.0,955.0 L374.0,1246.0 L446.0,1246.0" fill="none" stroke="#1f7a4c" stroke-width="1.3" stroke-dasharray="1.6,1.4"/>
<path d="M374.0,955.0 L374.0,1246.0 L446.0,1246.0" fill="none" stroke="#ffffff" stroke-width="1.2" stroke-dasharray="1.5,1.5" clip-path="url(#cb)" opacity="0.9"/>
<path d="M668.0,1007.0 L668.0,1317.0 L743.0,1317.0" fill="none" stroke="#1f7a4c" stroke-width="1.3" stroke-dasharray="1.6,1.4"/>
<path d="M668.0,1007.0 L668.0,1317.0 L743.0,1317.0" fill="none" stroke="#ffffff" stroke-width="1.2" stroke-dasharray="1.5,1.5" clip-path="url(#cb)" opacity="0.9"/>
<radialGradient id="halo1" cx="0.5" cy="0.5" r="0.5"><stop offset="0.70" stop-color="#2c8a62" stop-opacity="1"/><stop offset="0.80" stop-color="#2c8a62" stop-opacity="0.8"/><stop offset="1" stop-color="#2c8a62" stop-opacity="0"/></radialGradient>
<circle cx="495.0" cy="672.0" r="28" fill="url(#halo1)"/>
<circle cx="495.0" cy="672.0" r="21" fill="#ffffff"/>
<text x="495.0" y="683.5" text-anchor="middle" font-family="Liberation Sans" font-size="32" fill="#111" stroke="#111" stroke-width="0.6">1</text>
<radialGradient id="halo2" cx="0.5" cy="0.5" r="0.5"><stop offset="0.70" stop-color="#6ee07a" stop-opacity="1"/><stop offset="0.80" stop-color="#6ee07a" stop-opacity="0.85"/><stop offset="1" stop-color="#6ee07a" stop-opacity="0"/></radialGradient>
<circle cx="738.0" cy="741.0" r="28" fill="url(#halo2)"/>
<circle cx="738.0" cy="741.0" r="21" fill="#ffffff"/>
<text x="738.0" y="752.5" text-anchor="middle" font-family="Liberation Sans" font-size="32" fill="#111" stroke="#111" stroke-width="0.6">2</text>
<radialGradient id="halo3" cx="0.5" cy="0.5" r="0.5"><stop offset="0.70" stop-color="#2c8a62" stop-opacity="1"/><stop offset="0.80" stop-color="#2c8a62" stop-opacity="0.8"/><stop offset="1" stop-color="#2c8a62" stop-opacity="0"/></radialGradient>
<circle cx="879.0" cy="828.0" r="28" fill="url(#halo3)"/>
<circle cx="879.0" cy="828.0" r="21" fill="#ffffff"/>
<text x="879.0" y="839.5" text-anchor="middle" font-family="Liberation Sans" font-size="32" fill="#111" stroke="#111" stroke-width="0.6">3</text>
<radialGradient id="halo4" cx="0.5" cy="0.5" r="0.5"><stop offset="0.70" stop-color="#2c8a62" stop-opacity="1"/><stop offset="0.80" stop-color="#2c8a62" stop-opacity="0.8"/><stop offset="1" stop-color="#2c8a62" stop-opacity="0"/></radialGradient>
<circle cx="668.0" cy="984.0" r="28" fill="url(#halo4)"/>
<circle cx="668.0" cy="984.0" r="21" fill="#ffffff"/>
<text x="668.0" y="995.5" text-anchor="middle" font-family="Liberation Sans" font-size="32" fill="#111" stroke="#111" stroke-width="0.6">4</text>
<radialGradient id="halo5" cx="0.5" cy="0.5" r="0.5"><stop offset="0.70" stop-color="#2c8a62" stop-opacity="1"/><stop offset="0.80" stop-color="#2c8a62" stop-opacity="0.8"/><stop offset="1" stop-color="#2c8a62" stop-opacity="0"/></radialGradient>
<circle cx="374.5" cy="931.5" r="28" fill="url(#halo5)"/>
<circle cx="374.5" cy="931.5" r="21" fill="#ffffff"/>
<text x="374.5" y="943.0" text-anchor="middle" font-family="Liberation Sans" font-size="32" fill="#111" stroke="#111" stroke-width="0.6">5</text>
<radialGradient id="halo6" cx="0.5" cy="0.5" r="0.5"><stop offset="0.70" stop-color="#2c8a62" stop-opacity="1"/><stop offset="0.80" stop-color="#2c8a62" stop-opacity="0.8"/><stop offset="1" stop-color="#2c8a62" stop-opacity="0"/></radialGradient>
<circle cx="117.0" cy="856.0" r="28" fill="url(#halo6)"/>
<circle cx="117.0" cy="856.0" r="21" fill="#ffffff"/>
<text x="117.0" y="867.5" text-anchor="middle" font-family="Liberation Sans" font-size="32" fill="#111" stroke="#111" stroke-width="0.6">6</text>
<g font-family="Liberation Sans" fill="#0d0d0d"><text x="70.99" y="180.00" font-size="64" font-weight="bold" textLength="1010.34" lengthAdjust="spacingAndGlyphs">SCIENTIFIC SIX ZONING DESIGN</text>
<text x="191.00" y="247.00" font-size="33.5" textLength="766.20" lengthAdjust="spacingAndGlyphs">Ergonomic&#160; cushion uses a scientific zone design to</text>
<text x="240.00" y="282.00" font-size="33.5" textLength="668.37" lengthAdjust="spacingAndGlyphs">distribute pressure and reduce local pressure</text>
<text x="368.77" y="416.50" font-size="34.5" stroke="#0d0d0d" stroke-width="0.55" textLength="128.21" lengthAdjust="spacingAndGlyphs">Left Hip</text>
<text x="277.89" y="451.00" font-size="34.5" stroke="#0d0d0d" stroke-width="0.55" textLength="220.28" lengthAdjust="spacingAndGlyphs">Support Zone</text>
<text x="631.79" y="456.50" font-size="34.5" stroke="#0d0d0d" stroke-width="0.55" textLength="110.80" lengthAdjust="spacingAndGlyphs">Hollow</text>
<text x="662.97" y="491.60" font-size="34.5" stroke="#0d0d0d" stroke-width="0.55" textLength="80.71" lengthAdjust="spacingAndGlyphs">Zone</text>
<text x="876.78" y="535.40" font-size="34.5" stroke="#0d0d0d" stroke-width="0.55" textLength="152.19" lengthAdjust="spacingAndGlyphs">Right Hip</text>
<text x="876.89" y="570.70" font-size="34.5" stroke="#0d0d0d" stroke-width="0.55" textLength="220.28" lengthAdjust="spacingAndGlyphs">Support Zone</text>
<text x="116.81" y="1183.50" font-size="34.5" stroke="#0d0d0d" stroke-width="0.55" textLength="187.12" lengthAdjust="spacingAndGlyphs">Right Thigh</text>
<text x="116.90" y="1218.30" font-size="34.5" stroke="#0d0d0d" stroke-width="0.55" textLength="219.26" lengthAdjust="spacingAndGlyphs">Support Zone</text>
<text x="373.82" y="1277.40" font-size="34.5" stroke="#0d0d0d" stroke-width="0.55" textLength="213.69" lengthAdjust="spacingAndGlyphs">Physiological</text>
<text x="374.97" y="1312.60" font-size="34.5" stroke="#0d0d0d" stroke-width="0.55" textLength="80.71" lengthAdjust="spacingAndGlyphs">Zone</text>
<text x="666.76" y="1349.60" font-size="34.5" stroke="#0d0d0d" stroke-width="0.55" textLength="165.20" lengthAdjust="spacingAndGlyphs">Left Thigh</text>
<text x="666.90" y="1384.30" font-size="34.5" stroke="#0d0d0d" stroke-width="0.55" textLength="219.26" lengthAdjust="spacingAndGlyphs">Support Zone</text></g>
<rect x="0" y="1499" width="1150" height="1" fill="#444"/>
</svg>
</body></html>
